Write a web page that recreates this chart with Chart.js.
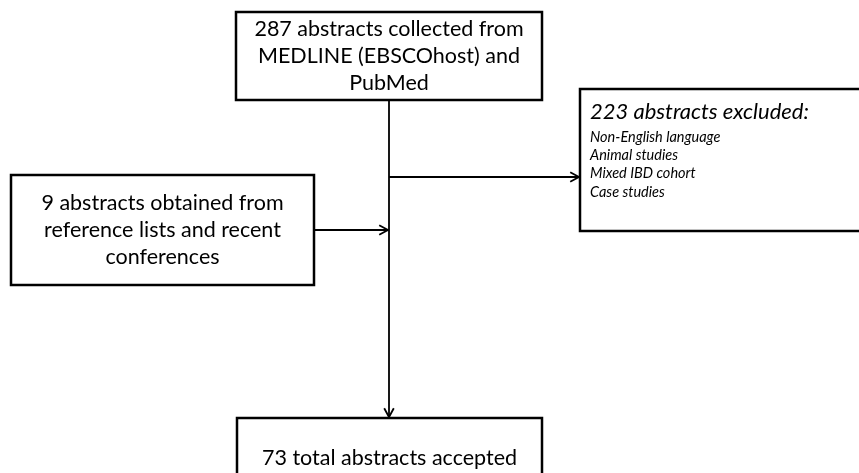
<!DOCTYPE html>
<html>
<head>
<meta charset="utf-8">
<script src="https://cdn.jsdelivr.net/npm/chart.js@4/dist/chart.umd.min.js"></script>
<style>
  html, body { margin: 0; padding: 0; background: #fff; }
  #wrap { width: 859px; height: 473px; }
</style>
</head>
<body>
<div id="wrap"><canvas id="chart"></canvas></div>
<script>
// flowchart text
const sourceLines = ['287 abstracts collected from', 'MEDLINE (EBSCOhost) and', 'PubMed'];
const extraLines = ['9 abstracts obtained from', 'reference lists and recent', 'conferences'];
const excludedTitle = '223 abstracts excluded:';
const excludedReasons = ['Non-English language', 'Animal studies', 'Mixed IBD cohort', 'Case studies'];
const acceptedLines = ['73 total abstracts accepted'];

// layout in axis units (x 0..859, y 0..473 top-down)
const boxes = [
    {x0: 236, x1: 542, y0: 12, y1: 100, lines: sourceLines, size: 21.5, lh: 27, align: 'center'},
    {x0: 11, x1: 314, y0: 175, y1: 285, lines: extraLines, size: 21.5, lh: 27, align: 'center'},
    {x0: 580, x1: 880, y0: 89, y1: 231, title: excludedTitle, lines: excludedReasons, align: 'left'},
    {x0: 237, x1: 542, y0: 418, y1: 500, lines: acceptedLines, size: 21.5, lh: 27, align: 'center', cy: 458}
];

const links = [
    [{x: 389, y: 100}, {x: 389, y: 417}],
    [{x: 314, y: 230}, {x: 388, y: 230}],
    [{x: 389, y: 177}, {x: 579, y: 177}]
];

const FONT = 'Lato, "Open Sans", sans-serif';

const flowPlugin = {
    id: 'flow',
    afterDatasetsDraw(chart) {
        const ctx = chart.ctx, sx = chart.scales.x, sy = chart.scales.y;
        ctx.save();
        // arrow heads
        ctx.strokeStyle = '#000';
        ctx.lineWidth = 1.8;
        for (const link of links) {
            const a = link[link.length - 2], b = link[link.length - 1];
            const ax = sx.getPixelForValue(a.x), ay = sy.getPixelForValue(a.y);
            const bx = sx.getPixelForValue(b.x), by = sy.getPixelForValue(b.y);
            const ang = Math.atan2(by - ay, bx - ax), L = 10, w = 0.5;
            ctx.beginPath();
            ctx.moveTo(bx - L * Math.cos(ang - w), by - L * Math.sin(ang - w));
            ctx.lineTo(bx, by);
            ctx.lineTo(bx - L * Math.cos(ang + w), by - L * Math.sin(ang + w));
            ctx.stroke();
        }
        // boxes
        for (const b of boxes) {
            const x0 = sx.getPixelForValue(b.x0), x1 = sx.getPixelForValue(b.x1);
            const y0 = sy.getPixelForValue(b.y0), y1 = sy.getPixelForValue(b.y1);
            ctx.fillStyle = '#fff';
            ctx.fillRect(x0, y0, x1 - x0, y1 - y0);
            ctx.lineWidth = 2.5;
            ctx.strokeStyle = '#000';
            ctx.strokeRect(x0, y0, x1 - x0, y1 - y0);
            ctx.fillStyle = '#000';
            ctx.textBaseline = 'middle';
            if (b.align === 'center') {
                ctx.textAlign = 'center';
                ctx.font = b.size + 'px ' + FONT;
                const cx = (x0 + x1) / 2;
                const cy = b.cy !== undefined ? sy.getPixelForValue(b.cy) : (y0 + y1) / 2;
                const top = cy - (b.lines.length - 1) * b.lh / 2;
                b.lines.forEach((t, i) => ctx.fillText(t, cx, top + i * b.lh));
            } else {
                ctx.textAlign = 'left';
                ctx.font = 'italic 22px ' + FONT;
                ctx.fillText(b.title, x0 + 10, y0 + 23);
                ctx.font = 'italic 14.5px ' + FONT;
                b.lines.forEach((t, i) => ctx.fillText(t, x0 + 10, y0 + 48 + i * 18.3));
            }
        }
        ctx.restore();
    }
};

new Chart(document.getElementById('chart'), {
    type: 'scatter',
    data: {
        datasets: links.map(l => ({
            data: l,
            showLine: true,
            borderColor: '#000',
            borderWidth: 1.8,
            pointRadius: 0
        }))
    },
    options: {
        responsive: true,
        maintainAspectRatio: false,
        animation: false,
        layout: {padding: 0},
        plugins: {legend: {display: false}, tooltip: {enabled: false}},
        scales: {
            x: {type: 'linear', min: 0, max: 859, display: false},
            y: {type: 'linear', min: 0, max: 473, reverse: true, display: false}
        }
    },
    plugins: [flowPlugin]
});
</script>
</body>
</html>
